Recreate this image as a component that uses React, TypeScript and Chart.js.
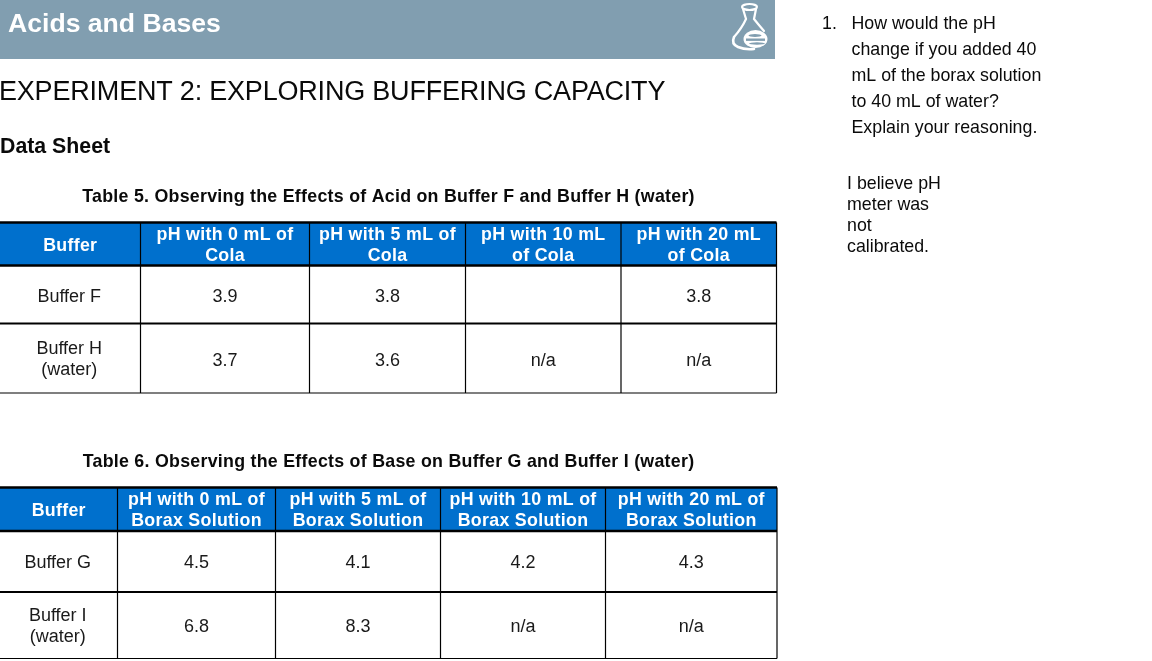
import React, { useEffect, useRef } from "react";
import { Chart, registerables } from "chart.js";

Chart.register(...registerables);

const bannerTitle = "Acids and Bases";
const experimentTitle = "EXPERIMENT 2: EXPLORING BUFFERING CAPACITY";
const sheetTitle = "Data Sheet";
const table5Title = "Table 5. Observing the Effects of Acid on Buffer F and Buffer H (water)";
const table6Title = "Table 6. Observing the Effects of Base on Buffer G and Buffer I (water)";
const table5Head = [["Buffer"], ["pH with 0 mL of", "Cola"], ["pH with 5 mL of", "Cola"], ["pH with 10 mL", "of Cola"], ["pH with 20 mL", "of Cola"]];
const table5Rows = [
  [["Buffer F"], ["3.9"], ["3.8"], [""], ["3.8"]],
  [["Buffer H", "(water)"], ["3.7"], ["3.6"], ["n/a"], ["n/a"]],
];
const table6Head = [["Buffer"], ["pH with 0 mL of", "Borax Solution"], ["pH with 5 mL of", "Borax Solution"], ["pH with 10 mL of", "Borax Solution"], ["pH with 20 mL of", "Borax Solution"]];
const table6Rows = [
  [["Buffer G"], ["4.5"], ["4.1"], ["4.2"], ["4.3"]],
  [["Buffer I", "(water)"], ["6.8"], ["8.3"], ["n/a"], ["n/a"]],
];
const questionNumber = "1.";
const questionLines = ["How would the pH", "change if you added 40", "mL of the borax solution", "to 40 mL of water?", "Explain your reasoning."];
const answerLines = ["I believe pH", "meter was", "not", "calibrated."];

const FONT = '"Liberation Sans", Arial, sans-serif';
const table5X = [0, 140.5, 309.5, 465.5, 621, 776.5];
const table5Y = [222.5, 265.5, 323.5, 393];
const table6X = [0, 117.5, 275.5, 440.5, 605.5, 777];
const table6Y = [487.5, 531, 592, 658.5];

const sheet = {
  id: "sheet",
  afterDraw(chart: any) {
    const { ctx, scales } = chart;
    const X = (v: number) => scales.x.getPixelForValue(v);
    const Y = (v: number) => scales.y.getPixelForValue(v);
    const text = (s: string, x: number, y: number, font: string, color: string, align: CanvasTextAlign = "left", spacing = 0) => {
      ctx.font = font;
      ctx.fillStyle = color;
      ctx.textAlign = align;
      ctx.textBaseline = "alphabetic";
      ctx.letterSpacing = `${spacing}px`;
      ctx.fillText(s, X(x), Y(y));
      ctx.letterSpacing = "0px";
    };
    const line = (x0: number, y0: number, x1: number, y1: number, w: number) => {
      ctx.strokeStyle = "#000";
      ctx.lineWidth = w;
      ctx.beginPath();
      ctx.moveTo(X(x0), Y(y0));
      ctx.lineTo(X(x1), Y(y1));
      ctx.stroke();
    };
    ctx.save();
    ctx.fillStyle = "#819eb0";
    ctx.fillRect(X(0), Y(0), X(775) - X(0), Y(59) - Y(0));
    text(bannerTitle, 8, 32, `bold 26.6px ${FONT}`, "#fff");

    // flask emblem
    ctx.strokeStyle = "#fff";
    ctx.lineCap = "round";
    ctx.lineWidth = 2.2;
    ctx.beginPath();
    ctx.ellipse(X(749.5), Y(7), 7.5, 3, 0, 0, Math.PI * 2);
    ctx.moveTo(X(743), Y(9));
    ctx.lineTo(X(746), Y(19));
    ctx.quadraticCurveTo(X(742), Y(28), X(734), Y(37));
    ctx.moveTo(X(756), Y(9));
    ctx.lineTo(X(754), Y(19));
    ctx.quadraticCurveTo(X(758), Y(24), X(764), Y(31));
    ctx.stroke();
    ctx.lineWidth = 2.6;
    ctx.beginPath();
    ctx.moveTo(X(734), Y(37));
    ctx.quadraticCurveTo(X(731), Y(44), X(738), Y(47));
    ctx.quadraticCurveTo(X(745), Y(50), X(754), Y(49));
    ctx.stroke();
    ctx.fillStyle = "#fff";
    ctx.beginPath();
    ctx.ellipse(X(755.5), Y(39), 12, 9, 0, 0, Math.PI * 2);
    ctx.fill();
    ctx.fillStyle = "#819eb0";
    ctx.fillRect(X(746), Y(38.5), 19, 2.4);
    ctx.beginPath();
    ctx.ellipse(X(755), Y(35.5), 6.5, 1.5, 0, 0, Math.PI * 2);
    ctx.ellipse(X(757), Y(43.5), 8, 1.2, 0, 0, Math.PI * 2);
    ctx.fill();
    ctx.lineCap = "butt";

    text(experimentTitle, -1, 100, `27px ${FONT}`, "#0a0a0a", "left", -0.2);
    text(sheetTitle, 0, 153, `bold 21.3px ${FONT}`, "#0a0a0a");

    const drawTable = (title: string, titleX: number, titleY: number, head: string[][], rows: string[][][], xs: number[], ys: number[], rowShift: number[]) => {
      text(title, titleX, titleY, `bold 17.8px ${FONT}`, "#0a0a0a", "center", 0.27);
      ctx.fillStyle = "#0070cd";
      ctx.fillRect(X(xs[0]), Y(ys[0]), X(xs[5]) - X(xs[0]), Y(ys[1]) - Y(ys[0]));
      const cell = (lines: string[], col: number, y0: number, y1: number, font: string, color: string, shift: number, spacing: number, dx: number) => {
        const cx = (xs[col] + xs[col + 1]) / 2 + dx;
        const mid = (y0 + y1) / 2;
        lines.forEach((s, i) => {
          const single = lines.length === 1;
          const base = mid + 6 + (single ? shift : 0) + (i - (lines.length - 1) / 2) * 21;
          text(s, cx, base, font, color, "center", spacing);
        });
      };
      head.forEach((lines, c) => cell(lines, c, ys[0], ys[1], `bold 17.8px ${FONT}`, "#fff", 1, 0.3, 0));
      rows.forEach((row, r) => row.forEach((lines, c) => cell(lines, c, ys[r + 1], ys[r + 2], `18px ${FONT}`, "#1a1a1a", rowShift[r], 0, c === 0 ? -1 : 0)));
      line(xs[0], ys[0], xs[5], ys[0], 2.5);
      line(xs[0], ys[1], xs[5], ys[1], 2.5);
      line(xs[0], ys[2], xs[5], ys[2], 2);
      line(xs[0], ys[3], xs[5], ys[3], 1.2);
      xs.slice(1).forEach((x) => line(x, ys[0], x, ys[3], 1.2));
    };
    drawTable(table5Title, 388.5, 202, table5Head, table5Rows, table5X, table5Y, [1, 1.5]);
    drawTable(table6Title, 388.5, 467, table6Head, table6Rows, table6X, table6Y, [0, 1]);

    text(questionNumber, 822, 29, `17.8px ${FONT}`, "#0a0a0a");
    questionLines.forEach((s, i) => text(s, 851.5, 29 + i * 26, `17.8px ${FONT}`, "#0a0a0a"));
    answerLines.forEach((s, i) => text(s, 847, 189 + i * 21, `17.8px ${FONT}`, "#0a0a0a"));
    ctx.restore();
  },
};

export default function App() {
  const ref = useRef<HTMLCanvasElement>(null);
  useEffect(() => {
    document.body.style.margin = "0";
    document.body.style.background = "#fff";
    const chart = new Chart(ref.current!, {
      type: "scatter",
      data: { datasets: [] },
      options: {
        animation: false,
        responsive: false,
        devicePixelRatio: 1,
        layout: { padding: 0 },
        plugins: { legend: { display: false }, tooltip: { enabled: false }, title: { display: false } },
        scales: {
          x: { type: "linear", min: 0, max: 1152, display: false },
          y: { type: "linear", min: 0, max: 661, reverse: true, display: false },
        },
      },
      plugins: [sheet],
    });
    return () => chart.destroy();
  }, []);
  return <canvas ref={ref} width={1152} height={661} style={{ display: "block", width: 1152, height: 661 }} />;
}
